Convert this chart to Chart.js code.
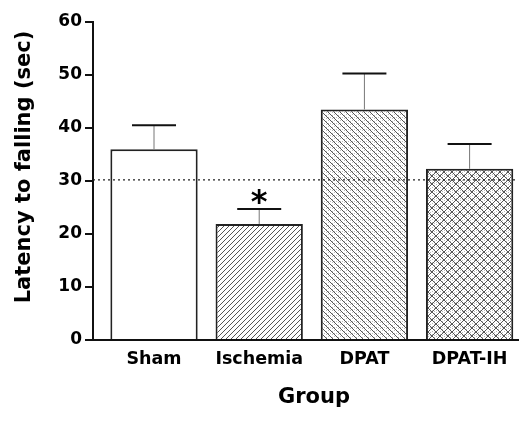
<!DOCTYPE html>
<html>
<head>
<meta charset="utf-8">
<script src="https://cdn.jsdelivr.net/npm/chart.js@4"></script>
<style>
  html, body { margin: 0; padding: 0; background: #fff; }
  #wrap { width: 520px; height: 421px; }
</style>
</head>
<body>
<div id="wrap"><canvas id="chart" width="520" height="421"></canvas></div>
<script>
// data
const groups = ['Sham', 'Ischemia', 'DPAT', 'DPAT-IH'];
const means = [36.0, 21.9, 43.5, 32.3];
const upperErr = [40.5, 24.7, 50.3, 37.0];
const sigMarks = ['', '*', '', ''];
const yTicks = [0, 10, 20, 30, 40, 50, 60];
const refLine = 30.2;
const xTitle = 'Group';
const yTitle = 'Latency to falling (sec)';

const FONT = "'DejaVu Sans', 'Liberation Sans', Arial, sans-serif";

// hatch fills for the bars
function makePattern(size, dirs, dots) {
    const c = document.createElement('canvas');
    c.width = size;
    c.height = size;
    const g = c.getContext('2d');
    g.fillStyle = '#fff';
    g.fillRect(0, 0, size, size);
    if (dots) {
        g.fillStyle = '#bbb';
        for (let i = 0; i < size; i += 2) {
            for (let j = (i / 2) % 2; j < size; j += 3) {
                g.fillRect(i, j, 1, 1);
            }
        }
    }
    g.strokeStyle = '#555';
    g.lineWidth = 1;
    dirs.forEach(d => {
        g.beginPath();
        for (let k = -1; k <= 1; k++) {
            if (d === '/') {
                g.moveTo(k * size - 1, size + 1);
                g.lineTo(k * size + size + 1, -1);
            } else {
                g.moveTo(k * size - 1, -1);
                g.lineTo(k * size + size + 1, size + 1);
            }
        }
        g.stroke();
    });
    return document.getElementById('chart').getContext('2d').createPattern(c, 'repeat');
}

const fills = [
    '#ffffff',
    makePattern(5, ['/'], false),
    makePattern(6, ['\\'], true),
    makePattern(8, ['/', '\\'], true)
];

const extrasPlugin = {
    id: 'extras',
    afterDatasetsDraw(chart) {
        const ctx = chart.ctx;
        const y = chart.scales.y;
        const area = chart.chartArea;
        const meta = chart.getDatasetMeta(0);

        // dotted reference line
        ctx.save();
        ctx.strokeStyle = '#222';
        ctx.lineWidth = 1.3;
        ctx.setLineDash([2, 3]);
        ctx.beginPath();
        ctx.moveTo(area.left, y.getPixelForValue(refLine));
        ctx.lineTo(area.right, y.getPixelForValue(refLine));
        ctx.stroke();
        ctx.restore();

        // error bars + significance marks
        ctx.save();
        meta.data.forEach((bar, i) => {
            const top = y.getPixelForValue(means[i]);
            const cap = y.getPixelForValue(upperErr[i]);
            ctx.strokeStyle = '#777';
            ctx.lineWidth = 1;
            ctx.beginPath();
            ctx.moveTo(bar.x, top);
            ctx.lineTo(bar.x, cap);
            ctx.stroke();
            ctx.strokeStyle = '#111';
            ctx.lineWidth = 2;
            ctx.beginPath();
            ctx.moveTo(bar.x - 22, cap);
            ctx.lineTo(bar.x + 22, cap);
            ctx.stroke();
            if (sigMarks[i]) {
                ctx.fillStyle = '#000';
                ctx.font = 'bold 32px ' + FONT;
                ctx.textAlign = 'center';
                ctx.textBaseline = 'alphabetic';
                ctx.fillText(sigMarks[i], bar.x, cap + 3);
            }
        });
        ctx.restore();

        // axis titles
        ctx.save();
        ctx.fillStyle = '#000';
        ctx.font = 'bold 21px ' + FONT;
        ctx.textAlign = 'center';
        ctx.textBaseline = 'middle';
        ctx.fillText(xTitle, 314, 398);
        ctx.translate(30, 167);
        ctx.rotate(-Math.PI / 2);
        ctx.font = 'bold 21px ' + FONT;
        ctx.textBaseline = 'alphabetic';
        ctx.fillText(yTitle, 0, 0);
        ctx.restore();
    }
};

new Chart(document.getElementById('chart'), {
    type: 'bar',
    data: {
        datasets: [{
            data: groups.map((g, i) => ({ x: i, y: means[i] })),
            backgroundColor: fills,
            borderColor: '#222',
            borderWidth: 2,
            borderSkipped: 'bottom',
            categoryPercentage: 1,
            barPercentage: 0.83
        }]
    },
    options: {
        responsive: false,
        animation: false,
        devicePixelRatio: 1,
        layout: { padding: { left: 0, top: 22, right: 2, bottom: 0 } },
        plugins: {
            legend: { display: false },
            tooltip: { enabled: false }
        },
        scales: {
            x: {
                type: 'linear',
                offset: false,
                min: -0.58,
                max: 3.46,
                afterBuildTicks: scale => {
                    scale.ticks = groups.map((g, i) => ({ value: i }));
                },
                afterFit: scale => { scale.height = 81; },
                grid: { display: false, drawTicks: false },
                border: { display: true, color: '#111', width: 2 },
                ticks: {
                    padding: 9,
                    color: '#000',
                    font: { family: FONT, size: 17.5, weight: 'bold' },
                    callback: v => groups[v]
                }
            },
            y: {
                min: 0,
                max: 60,
                afterBuildTicks: scale => {
                    scale.ticks = yTicks.map(v => ({ value: v }));
                },
                afterFit: scale => { scale.width = 93; },
                grid: {
                    drawOnChartArea: false,
                    drawTicks: true,
                    tickLength: 8,
                    color: '#111',
                    lineWidth: 2
                },
                border: { display: true, color: '#111', width: 2 },
                ticks: {
                    padding: 3,
                    color: '#000',
                    font: { family: FONT, size: 17, weight: 'bold' }
                }
            }
        }
    },
    plugins: [extrasPlugin]
});
</script>
</body>
</html>
